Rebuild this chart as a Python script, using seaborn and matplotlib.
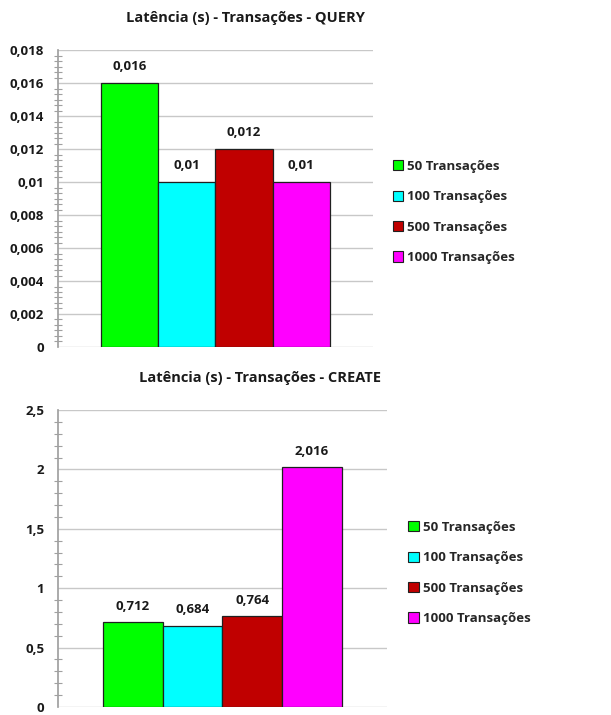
import matplotlib
matplotlib.use("Agg")
import matplotlib.pyplot as plt
import matplotlib.ticker as mticker
import numpy as np
import pandas as pd
import seaborn as sns

# Data
transacoes = ["50 Transações", "100 Transações", "500 Transações", "1000 Transações"]
latencia_query = [0.016, 0.01, 0.012, 0.01]
latencia_create = [0.712, 0.684, 0.764, 2.016]
cores = ["#00FF00", "#00FFFF", "#C00000", "#FF00FF"]

titulo_query = "Latência (s) - Transações - QUERY"
titulo_create = "Latência (s) - Transações - CREATE"

sns.set_theme(style="white")
plt.rcParams["font.family"] = ["Open Sans", "DejaVu Sans"]


def fmt_br(v, pos=None):
    """Excel-like general number format with decimal comma."""
    return f"{v:g}".replace(".", ",")


def draw_panel(ax, valores, titulo, ymax, major, minor, title_x, leg_anchor):
    df = pd.DataFrame({"grupo": ["g"] * len(transacoes),
                       "transacoes": transacoes,
                       "latencia": valores})
    sns.barplot(data=df, x="grupo", y="latencia", hue="transacoes",
                hue_order=transacoes, palette=cores, width=0.8, gap=0,
                edgecolor="#202020", linewidth=0.9, saturation=1,
                legend=False, ax=ax)
    for cont in ax.containers:
        ax.bar_label(cont, fmt=fmt_br, padding=7, fontsize=9.5,
                     fontweight="bold", color="#1a1a1a")

    ax.set_xlim(-0.55, 0.55)
    ax.set_ylim(0, ymax)
    ax.yaxis.set_major_locator(mticker.MultipleLocator(major))
    ax.yaxis.set_minor_locator(mticker.MultipleLocator(minor))
    ax.yaxis.set_major_formatter(mticker.FuncFormatter(fmt_br))
    ax.set_xticks([])
    ax.set_xlabel("")
    ax.set_ylabel("")
    # Excel centres the title on the whole chart area, not on the plot area
    ax.set_title(titulo, fontsize=10.5, fontweight="bold", pad=20,
                 color="#1a1a1a", x=title_x)

    ax.grid(axis="y", color="#c8c8c8", linewidth=1)
    ax.set_axisbelow(True)
    for s in ["top", "right", "bottom"]:
        ax.spines[s].set_visible(False)
    ax.spines["left"].set_color("#a0a0a0")
    ax.tick_params(axis="y", which="major", direction="inout", length=8,
                   width=1, color="#a0a0a0", labelsize=9.5, pad=6)
    ax.tick_params(axis="y", which="minor", direction="inout", length=6,
                   width=0.8, color="#a0a0a0", left=True)
    for lab in ax.get_yticklabels():
        lab.set_fontweight("bold")
        lab.set_color("#1a1a1a")

    handles = [plt.Rectangle((0, 0), 1, 1, facecolor=c, edgecolor="#202020",
                             linewidth=0.8) for c in cores]
    ax.legend(handles, transacoes, loc="center left", bbox_to_anchor=leg_anchor,
              bbox_transform=ax.figure.transFigure, frameon=False,
              handlelength=0.8, handleheight=0.8, handletextpad=0.3,
              labelspacing=1.32, borderpad=0,
              prop={"size": 9.5, "weight": "bold"})


fig = plt.figure(figsize=(6.11, 7.15), dpi=100)
ax1 = fig.add_axes([0.095, 0.5147, 0.515, 0.4153])
ax2 = fig.add_axes([0.095, 0.0112, 0.538, 0.4154])

draw_panel(ax1, latencia_query, titulo_query, 0.018, 0.002, 0.0003333333,
           0.597, (0.645 - 8 / 611, 1 - 212 / 715))
draw_panel(ax2, latencia_create, titulo_create, 2.5, 0.5, 0.1,
           0.614, (0.669 - 7 / 611, 1 - 573 / 715))

fig.savefig("out.png", dpi=100)
